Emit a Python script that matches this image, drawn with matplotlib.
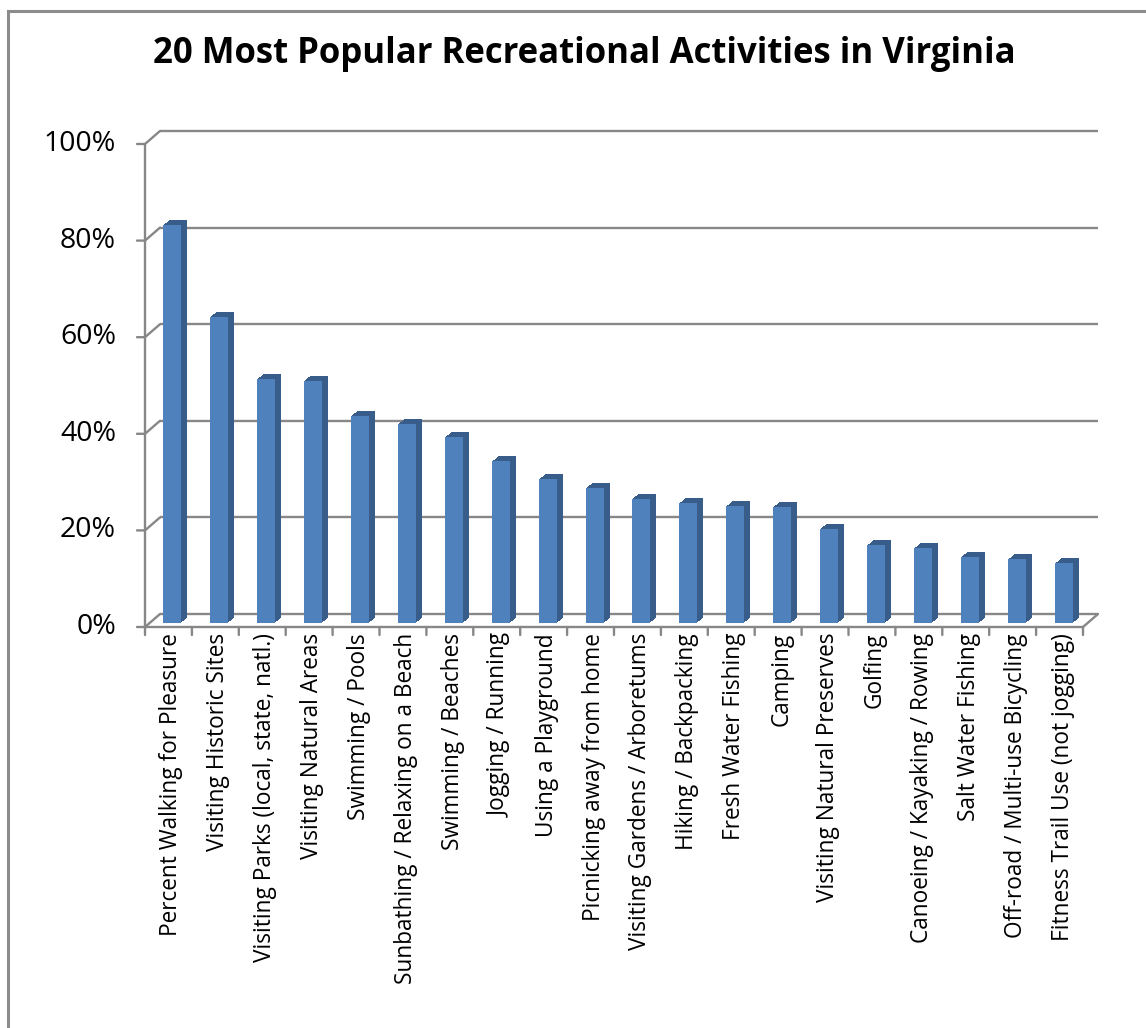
import matplotlib
matplotlib.use("Agg")
import matplotlib.pyplot as plt
from matplotlib.transforms import ScaledTranslation
from matplotlib.patches import Rectangle
import numpy as np

title = "20 Most Popular Recreational Activities in Virginia"
activities = [
    "Percent Walking for Pleasure",
    "Visiting Historic Sites",
    "Visiting Parks (local, state, natl.)",
    "Visiting Natural Areas",
    "Swimming / Pools",
    "Sunbathing / Relaxing on a Beach",
    "Swimming / Beaches",
    "Jogging / Running",
    "Using a Playground",
    "Picnicking away from home",
    "Visiting Gardens / Arboretums",
    "Hiking / Backpacking",
    "Fresh Water Fishing",
    "Camping",
    "Visiting Natural Preserves",
    "Golfing",
    "Canoeing / Kayaking / Rowing",
    "Salt Water Fishing",
    "Off-road / Multi-use Bicycling",
    "Fitness Trail Use (not jogging)",
]
percent = [82.4, 63.4, 50.5, 50.2, 42.9, 41.2, 38.5, 33.5, 29.8, 28.0,
           25.7, 24.8, 24.2, 24.0, 19.5, 16.1, 15.5, 13.7, 13.2, 12.4]
yticks = [0, 20, 40, 60, 80, 100]
ytick_labels = ["0%", "20%", "40%", "60%", "80%", "100%"]

W, H, DPI = 1146, 1028, 100
fig = plt.figure(figsize=(W / DPI, H / DPI), dpi=DPI)
fig.patch.set_facecolor("white")

# chart border
fig.add_artist(Rectangle((8 / W, -0.05), 1.2, (H - 11) / H + 0.05, transform=fig.transFigure,
                         fill=False, edgecolor="#8c8c8c", linewidth=2.2))

left, right, top, bottom = 145, 1083, 144, 627
ax = fig.add_axes([left / W, 1 - bottom / H, (right - left) / W, (bottom - top) / H])
n = len(percent)
ax.set_xlim(0, n)
ax.set_ylim(0, 100)
ax.axis("off")

grid_c = "#878787"
lw = 1.7
px = 1.0 / DPI
back = ax.transData + ScaledTranslation(15 * px, 13 * px, fig.dpi_scale_trans)
seg = dict(arrowstyle="-", color=grid_c, lw=lw, shrinkA=0, shrinkB=0)

# back wall gridlines + left wall diagonals
for v in yticks:
    ax.plot([0, n], [v, v], color=grid_c, lw=lw, transform=back, solid_capstyle="butt",
            zorder=1, clip_on=False)
    ax.annotate("", xy=(0, v), xycoords=back, xytext=(0, v), textcoords=ax.transData,
                arrowprops=seg, annotation_clip=False)
    ax.annotate("", xy=(0, v), xycoords=ax.transData, xytext=(-8, 0), textcoords="offset pixels",
                arrowprops=seg, annotation_clip=False)
# floor right diagonal
ax.annotate("", xy=(n, 0), xycoords=back, xytext=(n, 0), textcoords=ax.transData,
            arrowprops=seg, annotation_clip=False)
# front left axis and floor front line
ax.plot([0, 0], [0, 100], color=grid_c, lw=lw, zorder=2, solid_capstyle="butt", clip_on=False)
ax.plot([0, n], [0, 0], color=grid_c, lw=lw, zorder=2, solid_capstyle="butt", clip_on=False)
# category tick marks
for i in range(n + 1):
    ax.annotate("", xy=(i, 0), xycoords=ax.transData, xytext=(0, -8), textcoords="offset pixels",
                arrowprops=seg, annotation_clip=False)

# bars with 3D extrusion
x = np.arange(n) + 0.5
bw = 0.385
front_c = "#4F81BD"
side_c = "#385D8A"
base_off = (4 * px, 4 * px)
steps = 6
for k in range(steps, 0, -1):
    tr = ax.transData + ScaledTranslation(base_off[0] + k * px, base_off[1] + k * 0.8 * px, fig.dpi_scale_trans)
    ax.bar(x, percent, width=bw, color=side_c, edgecolor="none", transform=tr, zorder=3, clip_on=False)
tr_front = ax.transData + ScaledTranslation(base_off[0], base_off[1], fig.dpi_scale_trans)
ax.bar(x, percent, width=bw, color=front_c, edgecolor="none", transform=tr_front, zorder=4, clip_on=False)

# y tick labels
for v, lab in zip(yticks, ytick_labels):
    ax.annotate(lab, xy=(0, v), xycoords=ax.transData, xytext=(-29, 0), textcoords="offset pixels",
                ha="right", va="center", fontsize=20.5, family="Open Sans", color="black",
                annotation_clip=False)

# x category labels
for xi, lab in zip(x, activities):
    ax.annotate(lab, xy=(xi, 0), xycoords=ax.transData, xytext=(3, -6), textcoords="offset pixels",
                ha="center", va="top", rotation=90, fontsize=16.3, family="Open Sans", color="black",
                annotation_clip=False)

fig.text(584 / W, 1 - 54 / H, title, ha="center", va="center", fontsize=25,
         fontweight="bold", family="Open Sans", color="black")

fig.savefig("out.png", dpi=DPI, facecolor="white")
